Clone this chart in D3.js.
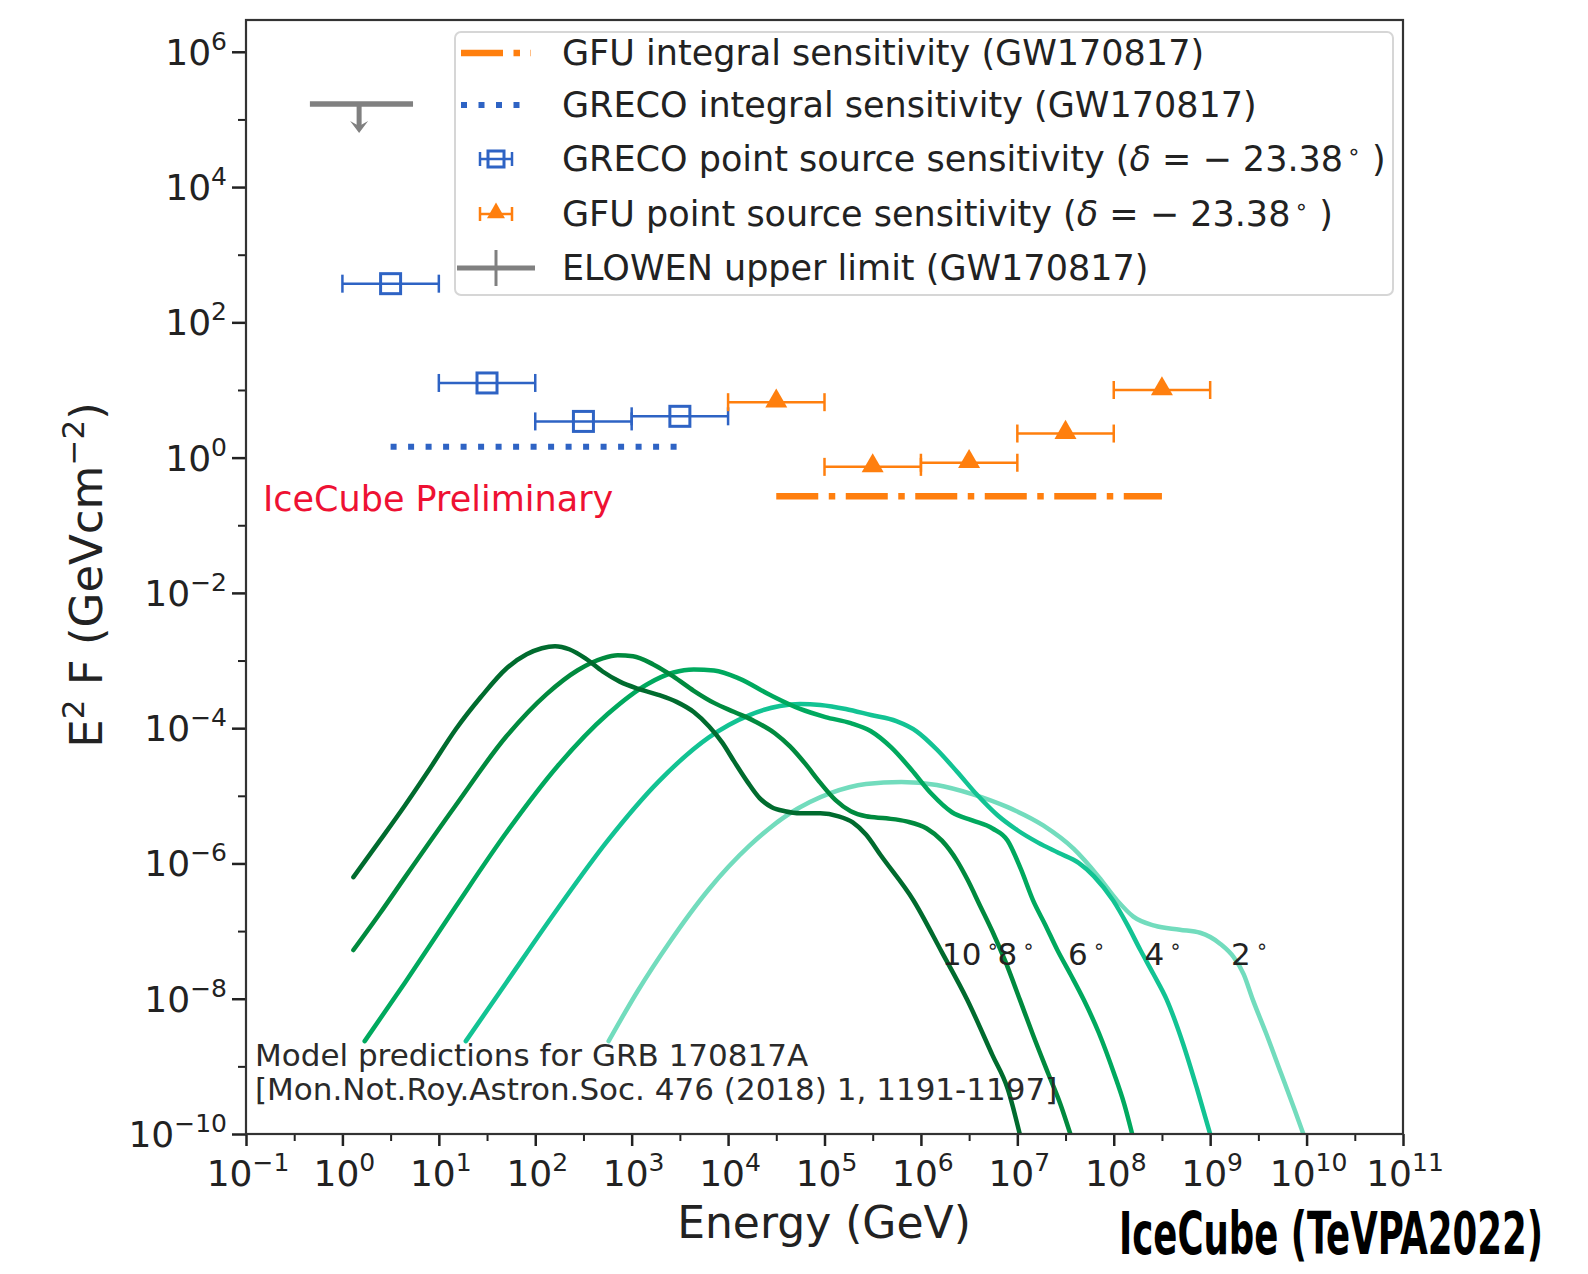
<!DOCTYPE html>
<html>
<head>
<title>E2F vs Energy - GW170817</title>
<script src="https://cdn.jsdelivr.net/npm/d3@7"></script>
<style>
body { margin: 0; background: #fff; }
svg { font-family: "DejaVu Sans", sans-serif; }
.tick line { stroke: #222; }
</style>
</head>
<body>
<svg id="chart" width="1588" height="1274"></svg>
<script>

// ---- data ----
// GRECO point source sensitivity (bins in GeV)
var grecoE  = [3.16, 31.6, 316, 3162];
var grecoLo = [1, 10, 100, 1000];
var grecoHi = [10, 100, 1000, 10000];
var grecoF  = [373, 12.7, 3.43, 4.08];

// GFU point source sensitivity
var gfuE  = [3.16e4, 3.16e5, 3.16e6, 3.16e7, 3.16e8];
var gfuLo = [1e4, 1e5, 1e6, 1e7, 1e8];
var gfuHi = [1e5, 1e6, 1e7, 1e8, 1e9];
var gfuF  = [6.6, 0.73, 0.84, 2.27, 10.0];

// integral sensitivities [Emin, Emax, F]
var grecoInt = [3.16, 3162, 1.45];
var gfuInt   = [3.16e4, 3.16e8, 0.268];

// ELOWEN upper limit
var elowenE = 1.49, elowenLo = 0.46, elowenHi = 5.4, elowenF = 1.69e5, elowenTip = 6.3e4;

// model curves, [log10 E, log10 E2F]
var curve10 = [[0.114,-6.202],[0.388,-5.663],[0.650,-5.139],[0.913,-4.585],[1.176,-4.016],[1.438,-3.536],
  [1.701,-3.117],[1.911,-2.908],[2.068,-2.818],[2.205,-2.788],[2.352,-2.833],[2.520,-2.968],[2.699,-3.162],
  [2.877,-3.312],[3.066,-3.417],[3.276,-3.507],[3.466,-3.611],[3.644,-3.761],[3.801,-3.971],[3.938,-4.210],
  [4.064,-4.495],[4.201,-4.794],[4.327,-5.034],[4.453,-5.168],[4.590,-5.228],[4.747,-5.258],[4.957,-5.258],
  [5.146,-5.303],[5.293,-5.393],[5.430,-5.573],[5.587,-5.887],[5.923,-6.547],[6.217,-7.311],[6.480,-8.015],
  [6.743,-8.838],[6.900,-9.332],[7.026,-10.005]];
var curve8 = [[0.114,-7.280],[0.388,-6.740],[0.650,-6.202],[1.176,-5.139],[1.701,-4.120],[2.121,-3.492],
  [2.436,-3.147],[2.699,-2.968],[2.856,-2.923],[3.014,-2.938],[3.224,-3.057],[3.434,-3.237],[3.644,-3.447],
  [3.854,-3.626],[4.064,-3.761],[4.274,-3.896],[4.485,-4.075],[4.642,-4.270],[4.800,-4.525],[4.957,-4.809],
  [5.115,-5.064],[5.272,-5.228],[5.430,-5.303],[5.640,-5.333],[5.850,-5.378],[6.060,-5.483],[6.218,-5.663],
  [6.375,-5.962],[6.480,-6.231],[6.617,-6.636],[6.743,-7.010],[6.879,-7.459],[7.026,-8.013],[7.163,-8.537],
  [7.320,-9.106],[7.446,-9.555],[7.551,-10.005]];
var curve6 = [[0.231,-8.627],[0.650,-7.759],[1.176,-6.636],[1.701,-5.543],[2.226,-4.570],[2.751,-3.791],
  [3.171,-3.342],[3.434,-3.177],[3.644,-3.132],[3.854,-3.147],[4.117,-3.267],[4.432,-3.507],[4.747,-3.716],
  [5.010,-3.836],[5.272,-3.926],[5.482,-4.046],[5.692,-4.285],[5.902,-4.614],[6.112,-4.974],[6.322,-5.243],
  [6.532,-5.363],[6.743,-5.483],[6.900,-5.663],[7.036,-6.082],[7.163,-6.546],[7.289,-6.905],[7.415,-7.280],
  [7.551,-7.639],[7.688,-8.013],[7.846,-8.507],[8.003,-9.106],[8.108,-9.555],[8.192,-10.005]];
var curve4 = [[1.280,-8.627],[1.701,-7.759],[2.226,-6.681],[2.751,-5.663],[3.276,-4.794],[3.801,-4.135],
  [4.222,-3.806],[4.537,-3.671],[4.747,-3.641],[4.957,-3.656],[5.220,-3.716],[5.482,-3.806],[5.745,-3.896],
  [5.955,-4.046],[6.165,-4.315],[6.375,-4.644],[6.585,-4.989],[6.795,-5.288],[7.005,-5.513],[7.215,-5.692],
  [7.425,-5.842],[7.636,-5.992],[7.793,-6.187],[7.993,-6.546],[8.140,-6.905],[8.276,-7.280],[8.413,-7.639],
  [8.549,-8.013],[8.717,-8.657],[8.864,-9.331],[9.001,-10.005]];
var curve2 = [[2.761,-8.627],[3.066,-7.878],[3.381,-7.190],[3.801,-6.381],[4.222,-5.737],[4.642,-5.258],
  [5.062,-4.959],[5.430,-4.824],[5.797,-4.794],[6.165,-4.839],[6.532,-4.974],[6.900,-5.168],[7.268,-5.438],
  [7.583,-5.782],[7.846,-6.202],[8.035,-6.546],[8.203,-6.786],[8.423,-6.920],[8.686,-6.980],[8.896,-7.025],
  [9.106,-7.190],[9.243,-7.384],[9.348,-7.639],[9.442,-8.013],[9.579,-8.507],[9.736,-9.106],[9.873,-9.630],
  [9.968,-10.005]];

var curves = [curve10, curve8, curve6, curve4, curve2];
var curveColors = ['#006b2e', '#008a3e', '#00a95e', '#12c393', '#72dcbd'];
var curveLabels = ['10', '8', '6', '4', '2'];
var labelLogE = [6.218, 6.794, 7.525, 8.319, 9.216];
var labelLogF = -7.50;

var xExp = d3.range(-1, 12);
var yExp = d3.range(-10, 7, 2);

// ---- chart ----
var width = 1588, height = 1274;
var margin = {top: 20, right: 185, bottom: 140, left: 246};

var x = d3.scaleLog().domain([1e-1, 1e11]).range([margin.left, width - margin.right]);
var y = d3.scaleLog().domain([1e-10, Math.pow(10, 6.47)]).range([height - margin.bottom, margin.top]);

var svg = d3.select('#chart');

svg.append('clipPath').attr('id', 'plotclip')
  .append('rect')
  .attr('x', margin.left).attr('y', margin.top)
  .attr('width', width - margin.left - margin.right)
  .attr('height', height - margin.top - margin.bottom);

// axes
var xAxis = g => g
  .attr('transform', `translate(0,${height - margin.bottom})`)
  .call(d3.axisBottom(x).tickValues(xExp.map(k => Math.pow(10, k))).tickSize(12).tickSizeOuter(0).tickFormat(''))
  .call(g => g.select('.domain').remove())
  .call(g => g.selectAll('.tick line').attr('stroke-width', 2.5));
var xMinor = g => g
  .attr('transform', `translate(0,${height - margin.bottom})`)
  .call(d3.axisBottom(x).tickValues(d3.range(-1, 11).map(k => Math.pow(10, k + 0.5))).tickSize(7).tickSizeOuter(0).tickFormat(''))
  .call(g => g.select('.domain').remove())
  .call(g => g.selectAll('.tick line').attr('stroke-width', 2));
var yAxis = g => g
  .attr('transform', `translate(${margin.left},0)`)
  .call(d3.axisLeft(y).tickValues(yExp.map(k => Math.pow(10, k))).tickSize(14).tickSizeOuter(0).tickFormat(''))
  .call(g => g.select('.domain').remove())
  .call(g => g.selectAll('.tick line').attr('stroke-width', 2.5));
var yMinor = g => g
  .attr('transform', `translate(${margin.left},0)`)
  .call(d3.axisLeft(y).tickValues(d3.range(-9, 7, 2).map(k => Math.pow(10, k))).tickSize(8).tickSizeOuter(0).tickFormat(''))
  .call(g => g.select('.domain').remove())
  .call(g => g.selectAll('.tick line').attr('stroke-width', 2));

svg.append('g').call(xAxis);
svg.append('g').call(xMinor);
svg.append('g').call(yAxis);
svg.append('g').call(yMinor);

function powLabel(t, k) {
  t.append('tspan').text('10');
  t.append('tspan').attr('font-size', 25).attr('dy', -15).text(k < 0 ? '\u2212' + (-k) : '' + k);
}

xExp.forEach(function(k) {
  var t = svg.append('text')
    .attr('x', x(Math.pow(10, k)) + 2)
    .attr('y', 1186)
    .attr('text-anchor', 'middle')
    .attr('font-size', 36)
    .attr('fill', '#222');
  powLabel(t, k);
});
yExp.forEach(function(k) {
  var t = svg.append('text')
    .attr('x', 227)
    .attr('y', y(Math.pow(10, k)) + 13)
    .attr('text-anchor', 'end')
    .attr('font-size', 36)
    .attr('fill', '#222');
  powLabel(t, k);
});

// axis labels
svg.append('text')
  .attr('x', 824).attr('y', 1238)
  .attr('text-anchor', 'middle')
  .attr('font-size', 44)
  .attr('fill', '#222')
  .text('Energy (GeV)');

var yl = svg.append('text')
  .attr('text-anchor', 'middle')
  .attr('transform', 'translate(102,575) rotate(-90)')
  .attr('font-size', 45)
  .attr('fill', '#222');
yl.append('tspan').text('E');
yl.append('tspan').attr('font-size', 31).attr('dy', -18).text('2');
yl.append('tspan').attr('dy', 18).text(' F (GeVcm');
yl.append('tspan').attr('font-size', 31).attr('dy', -18).text('\u22122');
yl.append('tspan').attr('dy', 18).text(')');

// plot content
var plot = svg.append('g').attr('clip-path', 'url(#plotclip)');

var line = d3.line()
  .x(d => x(Math.pow(10, d[0])))
  .y(d => y(Math.pow(10, d[1])))
  .curve(d3.curveMonotoneX);

// draw lightest first so darker ones sit on top
for (var i = curves.length - 1; i >= 0; i--) {
  plot.append('path')
    .datum(curves[i])
    .attr('fill', 'none')
    .attr('stroke', curveColors[i])
    .attr('stroke-width', 4.5)
    .attr('stroke-linecap', 'round')
    .attr('d', line);
}

curveLabels.forEach(function(lab, i) {
  var t = svg.append('text')
    .attr('x', x(Math.pow(10, labelLogE[i])))
    .attr('y', y(Math.pow(10, labelLogF)))
    .attr('font-size', 31)
    .attr('fill', '#222');
  t.append('tspan').text(lab);
  t.append('tspan').attr('dx', 5).attr('dy', -12).attr('font-size', 20).text('\u2218');
});

// integral sensitivities
plot.append('line')
  .attr('x1', x(grecoInt[0])).attr('x2', x(grecoInt[1]))
  .attr('y1', y(grecoInt[2])).attr('y2', y(grecoInt[2]))
  .attr('stroke', '#2e63c4').attr('stroke-width', 6)
  .attr('stroke-dasharray', '6,11.5');

plot.append('line')
  .attr('x1', x(gfuInt[0])).attr('x2', x(gfuInt[1]))
  .attr('y1', y(gfuInt[2])).attr('y2', y(gfuInt[2]))
  .attr('stroke', '#ff7f0e').attr('stroke-width', 6.5)
  .attr('stroke-dasharray', '42,10.5,6.5,10.5');

// errorbars
function errorbars(E, lo, hi, F, color) {
  var g = plot.append('g').attr('stroke', color).attr('stroke-width', 2.5);
  E.forEach(function(e, i) {
    var yy = y(F[i]);
    g.append('line').attr('x1', x(lo[i])).attr('x2', x(hi[i])).attr('y1', yy).attr('y2', yy);
    g.append('line').attr('x1', x(lo[i])).attr('x2', x(lo[i])).attr('y1', yy - 9).attr('y2', yy + 9);
    g.append('line').attr('x1', x(hi[i])).attr('x2', x(hi[i])).attr('y1', yy - 9).attr('y2', yy + 9);
  });
}
errorbars(grecoE, grecoLo, grecoHi, grecoF, '#2e63c4');
errorbars(gfuE, gfuLo, gfuHi, gfuF, '#ff7f0e');

plot.selectAll('.sq')
  .data(grecoE)
  .join('rect')
  .attr('x', (d, i) => x(d) - 10)
  .attr('y', (d, i) => y(grecoF[i]) - 10)
  .attr('width', 20).attr('height', 20)
  .attr('fill', 'none')
  .attr('stroke', '#2e63c4')
  .attr('stroke-width', 3);

plot.selectAll('.tri')
  .data(gfuE)
  .join('path')
  .attr('transform', (d, i) => `translate(${x(d)},${y(gfuF[i]) - 1})`)
  .attr('d', d3.symbol(d3.symbolTriangle, 210))
  .attr('fill', '#ff7f0e');

// ELOWEN upper limit
var ey = y(elowenF), tipY = y(elowenTip);
plot.append('line')
  .attr('x1', x(elowenLo)).attr('x2', x(elowenHi))
  .attr('y1', ey).attr('y2', ey)
  .attr('stroke', '#808080').attr('stroke-width', 5.5);
plot.append('line')
  .attr('x1', x(elowenE)).attr('x2', x(elowenE))
  .attr('y1', ey).attr('y2', tipY - 6)
  .attr('stroke', '#808080').attr('stroke-width', 5);
plot.append('path')
  .attr('d', `M${x(elowenE) - 9},${tipY - 12} L${x(elowenE)},${tipY} L${x(elowenE) + 9},${tipY - 12} L${x(elowenE)},${tipY - 7} Z`)
  .attr('fill', '#808080');

// annotations
svg.append('text')
  .attr('x', 263).attr('y', 511)
  .attr('font-size', 35)
  .attr('fill', '#ee1133')
  .text('IceCube Preliminary');

svg.append('text')
  .attr('x', 255).attr('y', 1066)
  .attr('font-size', 31)
  .attr('fill', '#2a2a2a')
  .text('Model predictions for GRB 170817A');
svg.append('text')
  .attr('x', 255).attr('y', 1100)
  .attr('font-size', 31)
  .attr('fill', '#2a2a2a')
  .text('[Mon.Not.Roy.Astron.Soc. 476 (2018) 1, 1191-1197]');

// legend
var lg = svg.append('g');
lg.append('rect')
  .attr('x', 455).attr('y', 32)
  .attr('width', 938).attr('height', 263)
  .attr('rx', 6)
  .attr('fill', '#fff').attr('fill-opacity', 0.85)
  .attr('stroke', '#d6d6d6').attr('stroke-width', 2);

var rowY = [53, 105, 159, 214, 268];
var hx0 = 461, hx1 = 531, hxc = 496;

lg.append('line').attr('x1', hx0).attr('x2', hx1).attr('y1', rowY[0]).attr('y2', rowY[0])
  .attr('stroke', '#ff7f0e').attr('stroke-width', 6.5).attr('stroke-dasharray', '42,10.5,6.5,10.5');
lg.append('line').attr('x1', hx0).attr('x2', hx1).attr('y1', rowY[1]).attr('y2', rowY[1])
  .attr('stroke', '#2e63c4').attr('stroke-width', 6).attr('stroke-dasharray', '6,11.5');

[[rowY[2], '#2e63c4'], [rowY[3], '#ff7f0e']].forEach(function(r) {
  var g = lg.append('g').attr('stroke', r[1]).attr('stroke-width', 2.5);
  g.append('line').attr('x1', hxc - 16).attr('x2', hxc + 16).attr('y1', r[0]).attr('y2', r[0]);
  g.append('line').attr('x1', hxc - 16).attr('x2', hxc - 16).attr('y1', r[0] - 7).attr('y2', r[0] + 7);
  g.append('line').attr('x1', hxc + 16).attr('x2', hxc + 16).attr('y1', r[0] - 7).attr('y2', r[0] + 7);
});
lg.append('rect').attr('x', hxc - 8).attr('y', rowY[2] - 8).attr('width', 16).attr('height', 16)
  .attr('fill', 'none').attr('stroke', '#2e63c4').attr('stroke-width', 3);
lg.append('path').attr('transform', `translate(${hxc},${rowY[3] - 1})`)
  .attr('d', d3.symbol(d3.symbolTriangle, 140)).attr('fill', '#ff7f0e');
lg.append('line').attr('x1', 457).attr('x2', 535).attr('y1', rowY[4]).attr('y2', rowY[4])
  .attr('stroke', '#808080').attr('stroke-width', 5);
lg.append('line').attr('x1', hxc).attr('x2', hxc).attr('y1', rowY[4] - 18).attr('y2', rowY[4] + 18)
  .attr('stroke', '#808080').attr('stroke-width', 3);

var legendText = [
  ['GFU integral sensitivity (GW170817)'],
  ['GRECO integral sensitivity (GW170817)'],
  ['GRECO point source sensitivity ', true],
  ['GFU point source sensitivity ', true],
  ['ELOWEN upper limit (GW170817)']
];
legendText.forEach(function(r, i) {
  var t = lg.append('text')
    .attr('x', 562).attr('y', rowY[i] + 12)
    .attr('font-size', 35)
    .attr('fill', '#222');
  t.append('tspan').text(r[0]);
  if (r[1]) {
    t.append('tspan').text('(');
    t.append('tspan').attr('font-style', 'italic').text('\u03b4');
    t.append('tspan').text(' = \u2212 23.38');
    t.append('tspan').attr('dx', 4).attr('dy', -12).attr('font-size', 22).text('\u2218');
    t.append('tspan').attr('dy', 12).text(' )');
  }
});

// frame
svg.append('rect')
  .attr('x', margin.left).attr('y', margin.top)
  .attr('width', width - margin.left - margin.right)
  .attr('height', height - margin.top - margin.bottom)
  .attr('fill', 'none')
  .attr('stroke', '#333')
  .attr('stroke-width', 2.2);

// condensed caption, squeezed to its measured width
var cap = svg.append('text')
  .attr('x', 0).attr('y', 0)
  .attr('font-family', '"Liberation Sans Narrow", "DejaVu Sans Condensed", sans-serif')
  .attr('font-weight', 'bold')
  .attr('font-size', 58)
  .attr('fill', '#000')
  .text('IceCube (TeVPA2022)');
var capW = cap.node().getComputedTextLength();
cap.attr('transform', `translate(1119,1254) scale(${424 / capW},1)`);

</script>
</body>
</html>
